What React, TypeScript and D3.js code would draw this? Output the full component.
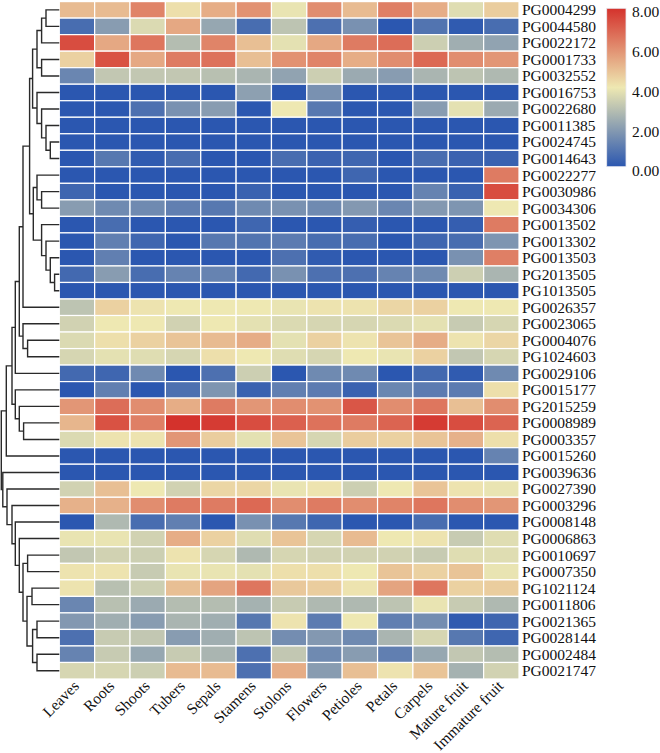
import React from 'react';
import * as d3 from 'd3';

const genes = [
  'PG0004299','PG0044580','PG0022172','PG0001733','PG0032552','PG0016753','PG0022680','PG0011385','PG0024745','PG0014643',
  'PG0022277','PG0030986','PG0034306','PG0013502','PG0013302','PG0013503','PG2013505','PG1013505','PG0026357','PG0023065',
  'PG0004076','PG1024603','PG0029106','PG0015177','PG2015259','PG0008989','PG0003357','PG0015260','PG0039636','PG0027390',
  'PG0003296','PG0008148','PG0006863','PG0010697','PG0007350','PG1021124','PG0011806','PG0021365','PG0028144','PG0002484',
  'PG0021747',
];

const tissues = ['Leaves','Roots','Shoots','Tubers','Sepals','Stamens','Stolons','Flowers','Petioles','Petals','Carpels','Mature fruit','Immature fruit'];

// one row per gene, one value per tissue
const expression: number[][] = [
  [5.0,5.0,6.2,4.2,5.3,5.9,3.9,6.0,5.0,6.3,5.3,3.7,4.6],
  [0.6,1.9,3.6,5.4,2.2,0.6,3.0,0.7,1.6,0.0,0.8,0.1,0.6],
  [7.4,5.4,6.5,2.8,6.2,4.9,3.8,5.4,6.4,6.7,3.3,2.4,2.1],
  [4.5,7.3,5.4,6.4,6.6,4.9,5.9,6.2,5.3,6.0,6.8,6.0,5.8],
  [1.3,3.1,3.1,3.1,2.9,2.6,2.1,3.3,2.3,1.9,2.6,3.0,2.7],
  [0,0,0,0,0,2.0,0,1.6,0,0,0,0,0],
  [0,0,0.7,1.6,1.9,0,4.0,0.9,0,0,1.9,3.8,2.3],
  [0,0,0,0,0,0,0,0,0,0,0,0,0],
  [0,0,0,0,0,0,0,0,0,0,0,0,0],
  [0,0.9,0.1,0.6,0,0,0.6,0.3,0.4,0,0.6,0.3,0.3],
  [0,0,0,0,0,0,0,0,0.4,0,0,0,6.4],
  [0.4,0,0,0,0,0.3,0,0,0,0,1.2,0.3,7.4],
  [1.9,1.4,1.4,1.1,0.9,1.4,1.6,1.4,1.8,1.3,1.8,1.7,4.0],
  [0,0.6,0,0,0,0.4,0,0,0.2,0,0,0.2,6.4],
  [0,1.1,0.4,0,0.9,0.8,1.0,0.6,0.6,0,0.4,0.6,1.7],
  [0,1.1,0,0,0,0,0.7,0.1,0,0,0,1.6,6.3],
  [0.5,1.9,0.6,1.2,1.2,0.5,1.6,0.7,0.7,1.2,1.4,3.3,2.6],
  [0,0,0,0,0,0,0,0,0,0,0,0,0],
  [3.0,4.5,4.1,4.0,4.0,4.0,3.9,4.1,4.1,4.4,4.5,4.0,4.0],
  [3.4,4.0,4.0,3.4,4.0,3.8,3.6,3.5,3.5,3.6,3.8,3.2,3.5],
  [3.6,4.2,4.5,4.8,5.0,5.3,3.8,4.5,4.1,4.8,5.3,4.1,4.4],
  [3.5,3.8,3.7,3.5,4.2,4.0,3.7,3.5,4.0,3.9,4.5,3.1,3.5],
  [0.5,0.4,1.4,0,0.7,3.3,0,1.4,1.4,0,0.5,0.1,1.4],
  [0,1.1,0,0.7,1.7,0.3,1.1,1.0,0.3,1.3,1.0,1.0,4.2],
  [5.8,6.7,6.0,5.3,6.4,5.8,6.0,5.9,7.2,6.0,6.5,4.9,6.0],
  [5.1,7.3,6.3,8.0,7.8,7.4,7.0,6.6,6.4,6.9,7.8,7.4,6.9],
  [3.6,4.1,4.1,5.8,4.6,3.8,4.8,3.5,4.6,4.5,4.8,5.2,4.2],
  [0,0,0,0,0,0,0,0,0,0,0,0,1.2],
  [0,0,0,0,0,0,0,0,0,0,0,0,0],
  [3.4,4.9,4.0,3.4,4.4,4.4,3.9,4.1,3.3,4.0,4.8,4.1,3.9],
  [5.2,5.2,6.0,6.4,6.4,6.8,6.0,6.4,6.0,6.2,6.5,6.0,5.8],
  [0,2.7,0.6,1.1,0,1.6,0.9,0.4,0,0,0.6,0,0],
  [3.9,3.9,3.4,5.3,4.5,3.7,4.8,3.5,5.0,4.0,4.1,3.2,3.7],
  [3.1,3.4,3.3,4.1,3.5,2.7,3.5,3.4,3.4,3.4,3.2,3.7,3.7],
  [4.1,4.1,3.2,3.9,3.9,3.8,4.2,4.2,4.0,4.8,4.5,4.8,3.9],
  [4.1,2.9,3.3,4.9,5.5,6.5,4.7,4.6,4.1,5.5,6.5,4.5,4.6],
  [1.3,2.9,2.3,2.8,2.8,2.5,3.2,2.7,2.7,3.0,3.9,3.2,2.7],
  [1.8,2.4,1.9,2.6,2.4,0.9,4.1,1.0,4.0,1.1,1.5,0.1,0.4],
  [0.7,3.2,3.1,1.9,2.4,3.0,1.5,1.8,1.4,2.6,3.5,0.9,0.4],
  [1.2,3.2,2.2,3.2,2.6,0.7,3.1,1.4,1.9,1.1,2.2,3.1,2.8],
  [3.5,3.5,3.3,5.0,5.0,0.7,5.3,1.9,4.9,4.1,4.8,2.5,3.4],
];

// hclust-style merge list: negative = leaf (1-based row), positive = earlier merge (1-based); third = height
const merges: [number, number, number][] = [
  [-1, -2, 13.3], [1, -3, 17.7], [-4, -5, 17.7], [2, 3, 22.3],
  [-9, -10, 9], [-8, 5, 13.3], [-7, 6, 17.7], [-6, 7, 22.3], [4, 8, 26.7],
  [-12, -13, 17.7], [-11, 10, 22.3], [-17, -18, 4.7], [-16, 12, 9], [-15, 13, 13.3], [-14, 14, 17.7],
  [11, 15, 26], [9, 16, 29.7], [17, -19, 36.3],
  [-21, -22, 31.7], [-20, 19, 36.3], [18, 20, 40], [21, -23, 44],
  [-26, -27, 35.7], [-25, 23, 40], [-24, 24, 44], [22, 25, 47.3], [26, -28, 53],
  [-38, -39, 22.3], [-40, -41, 22.3], [28, 29, 26.7], [-36, -37, 27.3], [31, 30, 32.3],
  [-34, -35, 31.7], [33, 32, 36.3], [-33, 34, 40], [-32, 35, 44], [-31, 36, 47.3],
  [-30, 37, 52.3], [-29, 38, 56.5], [27, 39, 58],
];

const legendTicks = [0, 2, 4, 6, 8];
const colorDomain = [0, 4, 8];
const colorRange = ['#2b57b0', '#eee8b2', '#d4322c'];

const FONT = '"Liberation Serif", "Times New Roman", serif';

export default function App() {
  const W = 660, H = 753;
  const heatLeft = 59.3, heatRight = 519, heatTop = 1.6, heatBottom = 679;
  const x = d3.scaleBand<string>().domain(tissues).range([heatLeft, heatRight]);
  const y = d3.scaleBand<string>().domain(genes).range([heatTop, heatBottom]);
  const color = d3.scaleLinear<string>().domain(colorDomain).range(colorRange).clamp(true);
  const hx = d3.scaleLinear().domain([0, 59]).range([heatLeft, 0.3]);

  const nodes: { x: number; y: number }[] = [];
  const paths: string[] = [];
  const get = (id: number) =>
    id < 0 ? { x: hx(0), y: (y(genes[-id - 1]) as number) + y.bandwidth() / 2 } : nodes[id - 1];
  merges.forEach(([a, b, h]) => {
    const A = get(a), B = get(b);
    const nx = hx(h);
    const ny = (A.y + B.y) / 2;
    const p = d3.path();
    p.moveTo(A.x, A.y);
    p.lineTo(nx, A.y);
    p.lineTo(nx, B.y);
    p.lineTo(B.x, B.y);
    paths.push(p.toString());
    nodes.push({ x: nx, y: ny });
  });

  const barX = 606.7, barW = 19.3, barTop = 8.3, barBottom = 166.7;
  const legY = d3.scaleLinear().domain([0, 8]).range([171, 12]);

  return (
    <svg width={W} height={H} style={{ position: 'absolute', left: 0, top: 0, display: 'block', background: '#fff' }}>
      <defs>
        <linearGradient id="cbar" x1="0" y1="1" x2="0" y2="0">
          {colorDomain.map((d, i) => (
            <stop key={i} offset={`${(d / 8) * 100}%`} stopColor={colorRange[i]} />
          ))}
        </linearGradient>
      </defs>
      <g>
        {expression.map((row, i) =>
          row.map((v, j) => (
            <rect
              key={`${i}-${j}`}
              x={x(tissues[j])}
              y={y(genes[i])}
              width={x.bandwidth()}
              height={y.bandwidth()}
              fill={color(v)}
              stroke="#ffffff"
              strokeWidth={1.2}
            />
          ))
        )}
      </g>
      <g fill="none" stroke="#2a2a2a" strokeWidth={1.4}>
        {paths.map((d, i) => (
          <path key={i} d={d} />
        ))}
      </g>
      <g fontFamily={FONT} fontSize={15.5} fill="#111">
        {genes.map((g) => (
          <text key={g} x={522} y={(y(g) as number) + y.bandwidth() / 2} dy="0.35em">
            {g}
          </text>
        ))}
        {tissues.map((t) => (
          <text
            key={t}
            textAnchor="end"
            transform={`translate(${(x(t) as number) + x.bandwidth() / 2 + 3},${687}) rotate(-45)`}
          >
            {t}
          </text>
        ))}
      </g>
      <rect x={barX} y={barTop} width={barW} height={barBottom - barTop} fill="url(#cbar)" stroke="#e8e8f0" strokeWidth={0.8} />
      <g fontFamily={FONT} fontSize={15.5} fill="#111">
        {legendTicks.map((t) => (
          <text key={t} x={632} y={legY(t)} dy="0.35em">
            {t.toFixed(2)}
          </text>
        ))}
      </g>
    </svg>
  );
}
